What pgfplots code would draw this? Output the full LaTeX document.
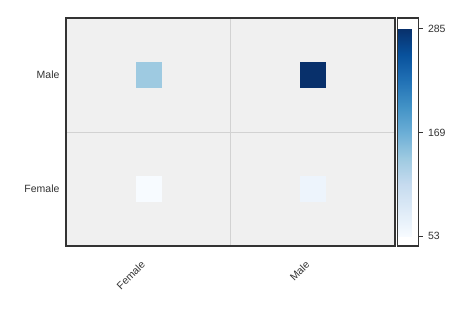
\documentclass[border=0pt]{standalone}
\usepackage{pgfplots}
\pgfplotsset{compat=1.18}
\usepackage{fontspec}
\setmainfont{Liberation Sans}
\definecolor{bg}{RGB}{240,240,240}
\definecolor{gridc}{RGB}{210,210,210}
\definecolor{txt}{RGB}{51,51,51}
\begin{document}
\begin{tikzpicture}
\useasboundingbox (-66pt,-73pt) rectangle (408pt,246pt);
\begin{axis}[
 scale only axis, width=329pt, height=228pt,
 xmin=-0.5, xmax=1.5, ymin=-0.5, ymax=1.5,
 xtick={0,1}, xticklabels={Female,Male},
 ytick={0,1}, yticklabels={Female,Male},
 minor xtick={0.5}, minor ytick={0.5},
 major tick length=0pt, minor tick length=0pt,
 xminorgrids, yminorgrids,
 minor grid style={gridc, line width=0.8pt},
 axis background/.style={fill=bg},
 axis line style={txt, line width=1.2pt},
 tick label style={font=\fontsize{10.5}{12}\selectfont, text=txt},
 x tick label style={rotate=45, anchor=north east, xshift=-12pt, yshift=-1pt},
 y tick label style={xshift=-3pt},
 colormap={blues}{rgb255=(247,251,255) rgb255=(222,235,247) rgb255=(198,219,239) rgb255=(158,202,225) rgb255=(107,174,214) rgb255=(66,146,198) rgb255=(33,113,181) rgb255=(8,81,156) rgb255=(8,48,107)},
 point meta min=53, point meta max=285,
 colorbar,
 colorbar style={width=21pt, at={(parent axis.north east)}, anchor=north west, xshift=-6pt,
   ymin=42, ymax=297,
   ytick={53,169,285}, ytick pos=right, tick align=outside, major tick length=4pt,
   ytick style={txt, line width=0.8pt},
   axis line style={txt, line width=1.2pt},
   /pgf/number format/assume math mode=true,
   yticklabel style={font=\fontsize{10.5}{12}\selectfont, text=txt, xshift=2pt},
   yticklabel pos=right},
]
\addplot[scatter, only marks, mark=square*, mark size=12.5pt,
  scatter/use mapped color={draw=mapped color, fill=mapped color},
  point meta=explicit] coordinates {(0,1) [140] (1,1) [285] (0,0) [53] (1,0) [65]};
\end{axis}
\end{tikzpicture}
\end{document}
